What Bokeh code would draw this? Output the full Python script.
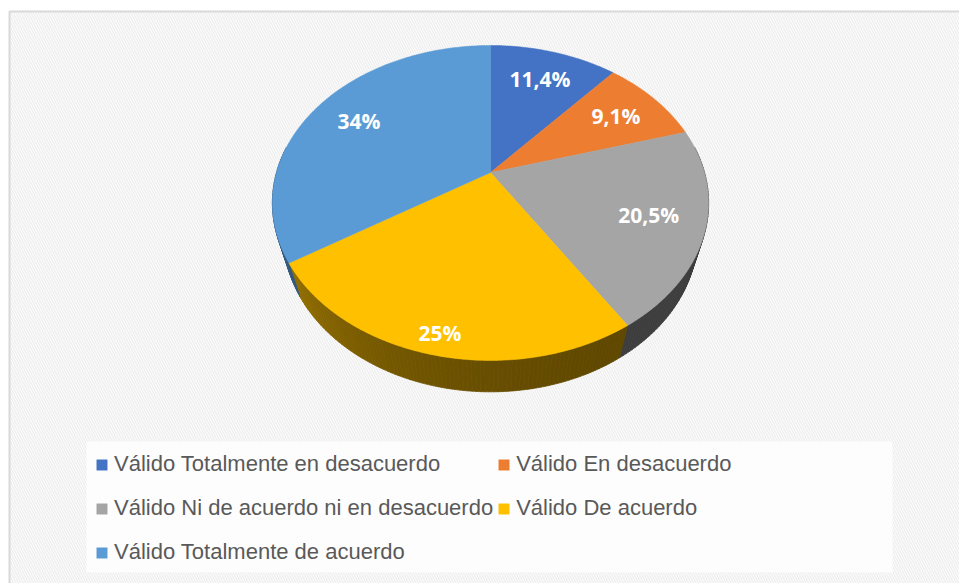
import numpy as np
from bokeh.plotting import figure
from bokeh.models import Range1d, Legend, LegendItem, ColumnDataSource
from bokeh.core.properties import value
from bokeh.embed import file_html
from bokeh.resources import INLINE

# ---------------- data ----------------
categories = [
    "Válido Totalmente en desacuerdo",
    "Válido En desacuerdo",
    "Válido Ni de acuerdo ni en desacuerdo",
    "Válido De acuerdo",
    "Válido Totalmente de acuerdo",
]
values = [11.4, 9.1, 20.5, 25.0, 34.0]
labels = ["11,4%", "9,1%", "20,5%", "25%", "34%"]
colors = ["#4472C4", "#ED7D31", "#A5A5A5", "#FFC000", "#5B9BD5"]

# ---------------- style / layout ----------------
CX, CY = 490.0, 172.0         # pie apex (screen px)
R, A, F = 214.0, 151.6, 5.17  # radius, vertical tilt scale, perspective
RB, DROP = 0.95, 35.0         # bottom face radius factor and drop
label_r = [0.75, 0.75, 0.75, 0.9, 0.75]


def proj(theta, r=1.0, drop=0.0):
    X = r * np.sin(theta)
    Z = -r * np.cos(theta)
    s = F / (F - Z)
    return CX + R * X * s, CY + (A * Z + drop) * s


def shade(hx, f):
    h = hx.lstrip("#")
    rgb = [int(h[i:i + 2], 16) for i in (0, 2, 4)]
    return "#%02x%02x%02x" % tuple(int(max(0, min(255, c * f))) for c in rgb)


W, H = 959, 583
p = figure(width=W, height=H, x_range=Range1d(0, W), y_range=Range1d(H, 0),
           output_backend="svg", toolbar_location=None, min_border=0)
p.axis.visible = False
p.grid.visible = False
p.outline_line_color = None
p.background_fill_color = "white"
p.border_fill_color = "white"

# chart area with diagonal stripes
p.quad(left=9, right=3000, top=11, bottom=3000, fill_color="white",
       hatch_pattern="left_diagonal_line", hatch_color="#efefef", hatch_scale=5,
       hatch_weight=1.5, line_color="#d9d9d9", line_width=2)
# legend box
p.quad(left=86, right=892, top=441, bottom=572, fill_color="white", fill_alpha=0.8,
       line_color=None)

total = float(sum(values))
cum = np.concatenate([[0.0], np.cumsum(values)]) / total * 2 * np.pi
starts, ends = cum[:-1], cum[1:]

# sides (drawn first; tops cover the hidden parts)
sx, sy, sc = [], [], []
step = np.radians(1.0)
for i, (a0, a1) in enumerate(zip(starts, ends)):
    lo = max(a0, np.radians(80))
    hi = min(a1, np.radians(280))
    if hi <= lo:
        continue
    n = int(np.ceil((hi - lo) / step))
    edges = np.linspace(lo, hi, n + 1)
    for t0, t1 in zip(edges[:-1], edges[1:]):
        tt = np.linspace(t0, t1, 3)
        xt, yt = proj(tt)
        xb, yb = proj(tt[::-1], r=RB, drop=DROP)
        deg = np.degrees((t0 + t1) / 2)
        u = np.clip((deg - 120) / 120, 0, 1)
        f = 0.37 + 0.22 * u ** 2.5
        c = shade(colors[i], f)
        sx.append(list(xt) + list(xb))
        sy.append(list(yt) + list(yb))
        sc.append(c)
p.patches(xs=sx, ys=sy, fill_color=sc, line_color=sc, line_width=0.8)

# tops
txs, tys = [], []
for a0, a1 in zip(starts, ends):
    n = max(4, int((a1 - a0) / (2 * np.pi) * 360))
    tt = np.linspace(a0, a1, n)
    xa, ya = proj(tt)
    txs.append([CX] + list(xa))
    tys.append([CY] + list(ya))
src = ColumnDataSource(dict(xs=txs, ys=tys, color=colors, label=categories))
tops = p.patches(xs="xs", ys="ys", fill_color="color", line_color="color",
                 line_width=0.5, source=src)

# labels
mids = (starts + ends) / 2
lx, ly = [], []
for m, r in zip(mids, label_r):
    x, y = proj(m, r=r)
    lx.append(float(x))
    ly.append(float(y))
p.text(x=lx, y=ly, text=labels, text_font=value("Open Sans"), text_font_style="bold",
       text_font_size="21px", text_color="white", text_align="center",
       text_baseline="middle")

# legend: two columns, row-major order (legend fills column by column)
order = [0, 2, 4, 1, 3]
items = [LegendItem(label=categories[i], renderers=[tops], index=i) for i in order]
legend = Legend(items=items, ncols=2, location=(95, 11), padding=0, margin=0,
                spacing=4, label_height=40, glyph_width=13, glyph_height=13,
                label_standoff=6, label_text_font="Liberation Sans",
                label_text_font_size="22px", label_text_color="#595959",
                border_line_alpha=0, background_fill_alpha=0)
p.add_layout(legend)

open("out.html", "w").write(file_html(p, INLINE))
